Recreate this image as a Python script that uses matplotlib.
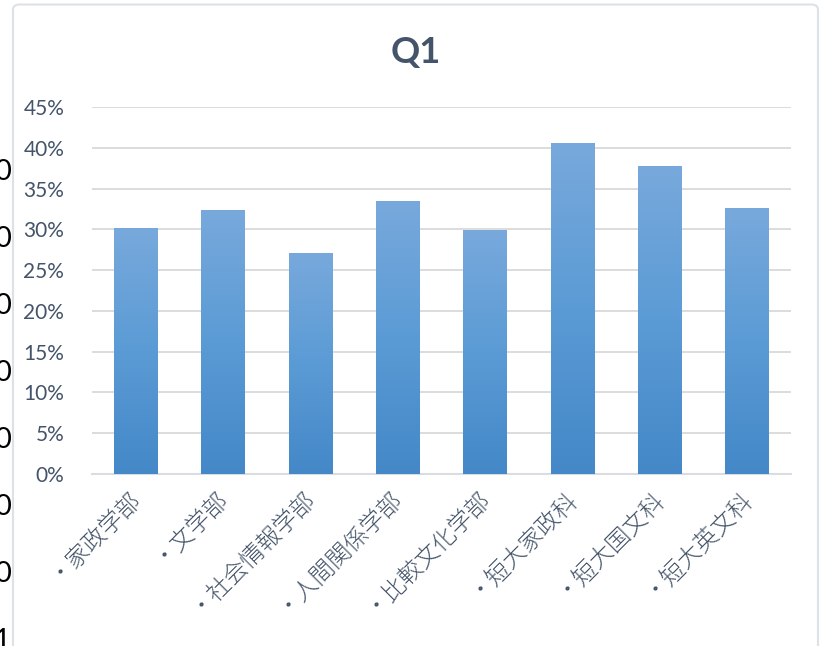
import numpy as np
import matplotlib
matplotlib.use("Agg")
import matplotlib.pyplot as plt
import matplotlib.transforms as mtransforms
from matplotlib.colors import LinearSegmentedColormap
from matplotlib.patches import FancyBboxPatch

# ---------- data ----------
categories = ["・家政学部", "・文学部", "・社会情報学部", "・人間関係学部",
              "・比較文化学部", "・短大家政科", "・短大国文科", "・短大英文科"]
values = [30.2, 32.4, 27.1, 33.5, 29.9, 40.6, 37.8, 32.6]  # percent
y_ticks = [0, 5, 10, 15, 20, 25, 30, 35, 40, 45]
title = "Q1"
# stray digits from a neighbouring chart at the left edge
side_digits = ["0", "0", "0", "0", "0", "0", "0", "1"]
# ---------------------------

plt.rcParams['font.family'] = ['Lato', 'DejaVu Sans']
label_col = "#44546a"
grid_col = "#d9d9d9"

fig = plt.figure(figsize=(8.28, 6.46), dpi=100)
ax = fig.add_axes([92 / 828, 1 - 474 / 646, 699 / 828, 367 / 646])

# outer chart frame
frame = FancyBboxPatch((13 / 828, -0.05), 805 / 828, 1.043, transform=fig.transFigure,
                       boxstyle="round,pad=0,rounding_size=0.008",
                       facecolor="white", edgecolor="#dde1e8", linewidth=1.5, zorder=-5)
fig.patches.append(frame)

cmap = LinearSegmentedColormap.from_list("bar", ["#4488c8", "#5b9bd5", "#78a9dc"])
grad = np.linspace(0, 1, 256).reshape(-1, 1)
x = np.arange(len(categories))
width = 0.5
bars = ax.bar(x, values, width=width, color="none", zorder=3)
for b in bars:
    im = ax.imshow(grad, cmap=cmap, aspect="auto", origin="lower",
                   extent=[b.get_x(), b.get_x() + b.get_width(), 0, b.get_height()],
                   zorder=3)
    im.set_clip_path(b)

ax.set_xlim(-0.5, len(categories) - 0.5)
ax.set_ylim(0, 45)
ax.set_yticks(y_ticks)
ax.set_yticklabels([f"{t}%" for t in y_ticks], fontsize=15, color=label_col)
ax.set_xticks(x)
ax.set_xticklabels(categories, rotation=45, ha="right", rotation_mode="anchor",
                   fontsize=17, color=label_col,
                   family=['Noto Sans CJK JP', 'DejaVu Sans'], fontweight="light")
ax.tick_params(axis="both", length=0)
ax.tick_params(axis="y", pad=20)
ax.tick_params(axis="x", pad=6)

# nudge the rotated category labels a little to the left
shift = mtransforms.ScaledTranslation(-10 / 100, 0, fig.dpi_scale_trans)
for lbl in ax.get_xticklabels():
    lbl.set_transform(lbl.get_transform() + shift)

ax.yaxis.grid(True, color=grid_col, linewidth=1.3, zorder=0)
ax.set_axisbelow(True)
for s in ["top", "right", "left"]:
    ax.spines[s].set_visible(False)
ax.spines["bottom"].set_color("#d9dce3")
ax.spines["bottom"].set_linewidth(1.5)

fig.text(416 / 828, 1 - 52 / 646, title, ha="center", va="center",
         fontsize=26, fontweight="bold", color=label_col)

for i, d in enumerate(side_digits):
    fig.text(-6 / 828, 1 - (172 + 67 * i) / 646, d, ha="left", va="center",
             fontsize=21, color="black")

fig.savefig("out.png", dpi=100)
